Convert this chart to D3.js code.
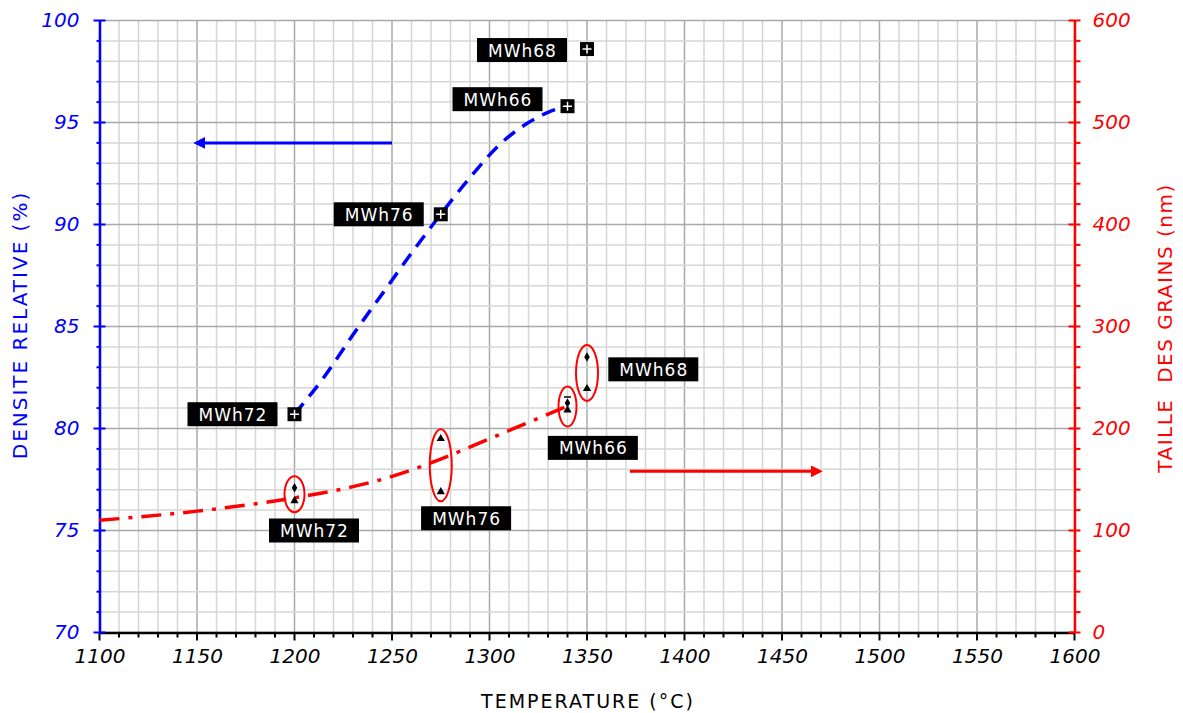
<!DOCTYPE html>
<html><head><meta charset="utf-8">
<script src="https://cdn.jsdelivr.net/npm/d3@7"></script>
<style>body{margin:0;background:#fff}svg{display:block}</style>
</head><body>
<svg id="c" width="1183" height="713"></svg>
<script>
// ---- data ----
const xTicks = [1100,1150,1200,1250,1300,1350,1400,1450,1500,1550,1600];
const leftTicks = [70,75,80,85,90,95,100];
const rightTicks = [0,100,200,300,400,500,600];

// density (left axis) curve and samples
const densCurveT = [1200,1215,1230,1245,1260,1275,1290,1305,1320,1330,1340];
const densCurveV = [80.7,82.5,84.6,86.6,88.6,90.5,92.3,93.9,95.0,95.5,95.8];
const densSamples = ["MWh72","MWh76","MWh66","MWh68"];
const densT = [1200,1275,1340,1350];
const densV = [80.7,90.5,95.8,98.6];

// grain size (right axis) curve
const grainCurveT = [1100,1150,1200,1230,1250,1275,1300,1320,1340];
const grainCurveV = [110,119,132,143,153,170,190,206,222];
// grain size measurements
const grainSamples = ["MWh72","MWh76","MWh66","MWh68"];
const grainT = [1200,1275,1340,1350];
const grainHigh = [142,190,225,270];
const grainLow = [129,138,218,239];

// ---- drawing ----
const svg = d3.select("#c");
const L=99.5, R=1074.5, T=20.5, B=632.5;
const x = d3.scaleLinear().domain([1100,1600]).range([L,R]);
const yL = d3.scaleLinear().domain([70,100]).range([B,T]);
const yR = d3.scaleLinear().domain([0,600]).range([B,T]);

const g = svg.append("g");
// grid
const minorX = d3.range(1100,1601,10), minorY = d3.range(70,100.01,1);
g.selectAll(".gx").data(minorX).join("line")
 .attr("x1",d=>x(d)).attr("x2",d=>x(d)).attr("y1",T).attr("y2",B)
 .attr("stroke",d=>d%50===0?"#a9a9a9":"#d6d6d6").attr("stroke-width",1.5);
g.selectAll(".gy").data(minorY).join("line")
 .attr("y1",d=>yL(d)).attr("y2",d=>yL(d)).attr("x1",L).attr("x2",R)
 .attr("stroke",d=>d%5===0?"#a9a9a9":"#d6d6d6").attr("stroke-width",1.5);

const tickFont = "'DejaVu Sans', Verdana, sans-serif";
// bottom axis
const xAx = svg.append("g").attr("transform",`translate(0,${B})`)
 .call(d3.axisBottom(x).tickValues(xTicks).tickSize(0).tickFormat(d3.format("d")).tickPadding(16));
xAx.select(".domain").attr("stroke","#000").attr("stroke-width",2.5);
xAx.selectAll("text").attr("font-family",tickFont).attr("font-style","italic").attr("font-size",20).attr("fill","#000");
svg.append("g").selectAll("line").data(minorX).join("line")
 .attr("x1",d=>x(d)).attr("x2",d=>x(d)).attr("y1",B).attr("y2",d=>B+(d%50===0?8:5))
 .attr("stroke","#000").attr("stroke-width",2);

// left axis
const yAx = svg.append("g").attr("transform",`translate(${L},0)`)
 .call(d3.axisLeft(yL).tickValues(leftTicks).tickSize(0).tickPadding(20));
yAx.select(".domain").attr("stroke","#0000ff").attr("stroke-width",2.5);
yAx.selectAll("text").attr("font-family",tickFont).attr("font-style","italic").attr("font-size",20).attr("fill","#0000ff");
svg.append("g").selectAll("line").data(minorY).join("line")
 .attr("y1",d=>yL(d)).attr("y2",d=>yL(d)).attr("x1",d=>L-(d%5===0?6:3)).attr("x2",d=>L+(d%5===0?6:0))
 .attr("stroke","#0000ff").attr("stroke-width",2);

// right axis
const minorR = d3.range(0,601,20);
const rAx = svg.append("g").attr("transform",`translate(${R},0)`)
 .call(d3.axisRight(yR).tickValues(rightTicks).tickSize(0).tickPadding(18));
rAx.select(".domain").attr("stroke","#ff0000").attr("stroke-width",2.5);
rAx.selectAll("text").attr("font-family",tickFont).attr("font-style","italic").attr("font-size",20).attr("fill","#ff0000");
svg.append("g").selectAll("line").data(minorR).join("line")
 .attr("y1",d=>yR(d)).attr("y2",d=>yR(d)).attr("x1",d=>R-(d%100===0?6:0)).attr("x2",d=>R+6)
 .attr("stroke","#ff0000").attr("stroke-width",2);

// axis titles
const titleFont = "'DejaVu Sans', Verdana, sans-serif";
svg.append("text").attr("x",588).attr("y",708).attr("text-anchor","middle")
 .attr("font-family",titleFont).attr("font-size",19).attr("letter-spacing",2).attr("fill","#000").text("TEMPERATURE (°C)");
svg.append("text").attr("transform","translate(27,325) rotate(-90)").attr("text-anchor","middle")
 .attr("font-family",titleFont).attr("font-size",20).attr("letter-spacing",2).attr("fill","#0000ff").text("DENSITE RELATIVE (%)");
svg.append("text").attr("transform","translate(1172,328) rotate(-90)").attr("text-anchor","middle")
 .attr("font-family",titleFont).attr("font-size",20).attr("letter-spacing",1.5).attr("fill","#ff0000")
 .style("white-space","pre").text("TAILLE  DES GRAINS (nm)");

// density curve
const densLine = d3.line().curve(d3.curveMonotoneX).x((d,i)=>x(densCurveT[i])).y(d=>yL(d));
svg.append("path").attr("d",densLine(densCurveV)).attr("fill","none")
 .attr("stroke","#0000ff").attr("stroke-width",3.5).attr("stroke-dasharray","14,9");

// grain curve
const grainLine = d3.line().curve(d3.curveMonotoneX).x((d,i)=>x(grainCurveT[i])).y(d=>yR(d));
svg.append("path").attr("d",grainLine(grainCurveV)).attr("fill","none")
 .attr("stroke","#ff0000").attr("stroke-width",3.5).attr("stroke-dasharray","20,9,4,9");

// arrows
const defs = svg.append("defs");
defs.append("marker").attr("id","ab").attr("viewBox","0 0 10 10").attr("refX",2).attr("refY",5)
 .attr("markerWidth",4).attr("markerHeight",4).attr("orient","auto")
 .append("path").attr("d","M0,0L10,5L0,10z").attr("fill","#0000ff");
defs.append("marker").attr("id","ar").attr("viewBox","0 0 10 10").attr("refX",2).attr("refY",5)
 .attr("markerWidth",4).attr("markerHeight",4).attr("orient","auto")
 .append("path").attr("d","M0,0L10,5L0,10z").attr("fill","#ff0000");
svg.append("line").attr("x1",x(1250)).attr("x2",x(1153)).attr("y1",yL(94)).attr("y2",yL(94))
 .attr("stroke","#0000ff").attr("stroke-width",3).attr("marker-end","url(#ab)");
svg.append("line").attr("x1",x(1372)).attr("x2",x(1466)).attr("y1",yR(158)).attr("y2",yR(158))
 .attr("stroke","#ff0000").attr("stroke-width",3).attr("marker-end","url(#ar)");

// density markers
densT.forEach((t,i)=>{
  const cx=x(t), cy=yL(densV[i]);
  svg.append("rect").attr("x",cx-7).attr("y",cy-7).attr("width",14).attr("height",14).attr("fill","#000");
  svg.append("path").attr("d",`M${cx-4.5},${cy}H${cx+4.5}M${cx},${cy-4.5}V${cy+4.5}`).attr("stroke","#fff").attr("stroke-width",1.5);
});

// grain ellipses & markers
const ellipseR = [[10,18],[11,36],[9,20],[11,28]];
grainT.forEach((t,i)=>{
  const cx=x(t), hi=yR(grainHigh[i]), lo=yR(grainLow[i]);
  const cy=(hi+lo)/2;
  svg.append("ellipse").attr("cx",cx).attr("cy",cy).attr("rx",ellipseR[i][0]).attr("ry",ellipseR[i][1])
   .attr("fill","none").attr("stroke","#ff0000").attr("stroke-width",2);
  if(i===1){
    svg.append("path").attr("d",d3.symbol(d3.symbolTriangle,30)()).attr("transform",`translate(${cx},${hi})`).attr("fill","#000");
  } else if(i===2){
    svg.append("path").attr("d",`M${cx-3.5},${hi-6}H${cx+3.5}`).attr("stroke","#000").attr("stroke-width",1.5);
    svg.append("path").attr("d",d3.symbol(d3.symbolDiamond,26)()).attr("transform",`translate(${cx},${hi})`).attr("fill","#000");
  } else {
    svg.append("path").attr("d",d3.symbol(d3.symbolDiamond,26)()).attr("transform",`translate(${cx},${hi})`).attr("fill","#000");
  }
  svg.append("path").attr("d",d3.symbol(d3.symbolTriangle,30)()).attr("transform",`translate(${cx},${lo})`).attr("fill","#000");
});

// labels
function label(cx, cy, text){
  svg.append("rect").attr("x",cx-45).attr("y",cy-12).attr("width",90).attr("height",24).attr("fill","#000");
  svg.append("text").attr("x",cx+0.5).attr("y",cy+6.5).attr("text-anchor","middle")
   .attr("font-family",titleFont).attr("font-size",17).attr("letter-spacing",1).attr("fill","#fff").text(text);
}
// density labels (offsets from marker)
const densLabelOff = [[-62,0],[-62,0],[-70,-7],[-65,1]];
densT.forEach((t,i)=>label(x(t)+densLabelOff[i][0], yL(densV[i])+densLabelOff[i][1], densSamples[i]));
// grain labels
const grainLabelPos = [[1210,100],[1288,112],[1353,181],[1384,258]];
grainLabelPos.forEach((p,i)=>label(x(p[0]), yR(p[1]), grainSamples[i]));
</script>
</body></html>
